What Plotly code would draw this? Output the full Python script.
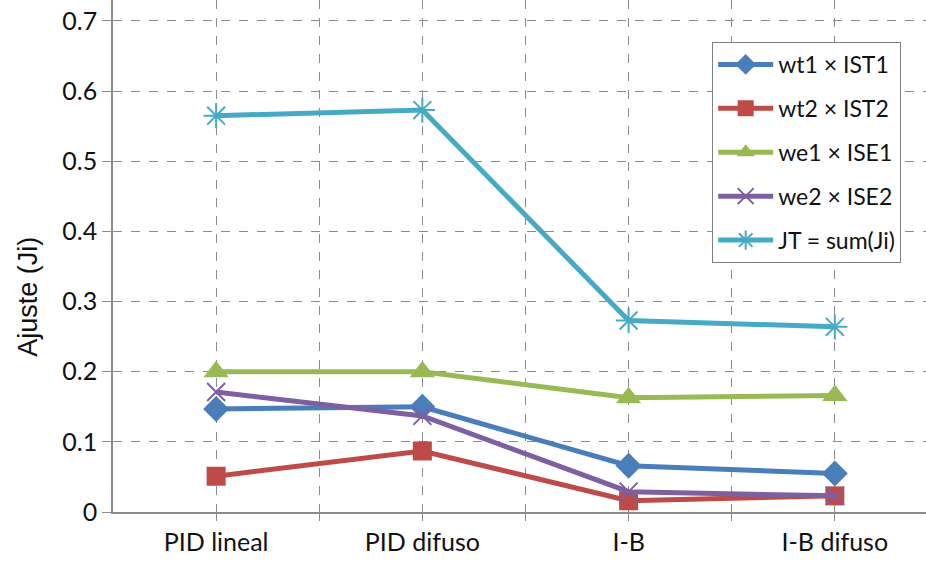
import plotly.graph_objects as go

# Controllers compared and the weighted fitness terms for each one
categories = ["PID lineal", "PID difuso", "I-B", "I-B difuso"]

wt1_ist1 = [0.147, 0.150, 0.066, 0.055]
wt2_ist2 = [0.051, 0.087, 0.016, 0.023]
we1_ise1 = [0.200, 0.200, 0.163, 0.166]
we2_ise2 = [0.171, 0.137, 0.029, 0.023]
jt_sum = [0.565, 0.573, 0.273, 0.264]

y_ticks = [0, 0.1, 0.2, 0.3, 0.4, 0.5, 0.6, 0.7]
y_tick_text = ["0", "0.1", "0.2", "0.3", "0.4", "0.5", "0.6", "0.7"]

x_pos = list(range(len(categories)))

series = [
    ("wt1 × IST1", wt1_ist1, "#4A7EBB", dict(symbol="diamond", size=20)),
    ("wt2 × IST2", wt2_ist2, "#BE4B48", dict(symbol="square", size=19)),
    ("we1 × ISE1", we1_ise1, "#98B954", dict(symbol="triangle-up", size=22)),
    ("we2 × ISE2", we2_ise2, "#7D60A0",
     dict(symbol="x-thin-open", size=18, line=dict(width=2, color="#8A6DB0"))),
    ("JT = sum(Ji)", jt_sum, "#46AAC5",
     dict(symbol="asterisk-open", size=21, line=dict(width=2, color="#46AAC5"))),
]

fig = go.Figure()
for i, (name, vals, color, marker) in enumerate(series):
    m = dict(color=color)
    m.update(marker)
    fig.add_trace(go.Scatter(
        x=x_pos, y=vals, name=name, mode="lines+markers",
        line=dict(color=color, width=5),
        marker=m, legendgroup=f"g{i}",
    ))

grid_color = "#8c8c8c"
axis_color = "#8c8c8c"

fig.update_layout(
    width=926, height=578,
    margin=dict(l=113, r=0, t=0, b=66),
    paper_bgcolor="white", plot_bgcolor="white",
    font=dict(family="Lato, Noto Sans, sans-serif", color="#111111"),
    showlegend=True,
    legend=dict(
        x=0.737, y=0.918, xanchor="left", yanchor="top",
        bgcolor="white", bordercolor="#808080", borderwidth=1,
        font=dict(size=23, family="Lato, Noto Sans, sans-serif"),
        itemwidth=55, tracegroupgap=11,
    ),
    xaxis=dict(
        range=[-0.5, 3.442],
        tickmode="array", tickvals=x_pos, ticktext=categories,
        tickfont=dict(size=25),
        showline=True, linecolor=axis_color, linewidth=1.5,
        ticks="outside", ticklen=7, tickcolor=axis_color,
        showgrid=True, gridcolor=grid_color, griddash="dash", gridwidth=1,
        minor=dict(tickvals=[0.5, 1.5, 2.5], showgrid=True,
                   gridcolor=grid_color, griddash="dash", gridwidth=1,
                   ticks="outside", ticklen=7, tickcolor=axis_color),
        zeroline=False,
    ),
    yaxis=dict(
        range=[0, 0.7299],
        tickmode="array", tickvals=y_ticks, ticktext=y_tick_text,
        tickfont=dict(size=25),
        showline=True, linecolor=axis_color, linewidth=1.5,
        ticks="outside", ticklen=9, tickcolor=axis_color,
        showgrid=False,
        minor=dict(tickvals=y_ticks[1:], showgrid=True,
                   gridcolor=grid_color, griddash="dash", gridwidth=1),
        zeroline=False,
    ),
    annotations=[dict(
        text="Ajuste (Ji)", textangle=-90, showarrow=False,
        xref="paper", yref="paper", x=-113 / 813 + 28 / 813,
        y=(512.4 - 297) / 512.4, xanchor="center", yanchor="middle",
        font=dict(size=27, family="Liberation Sans, Arial, sans-serif",
                  color="#111111"),
    )],
)

fig.write_html("out.html")
